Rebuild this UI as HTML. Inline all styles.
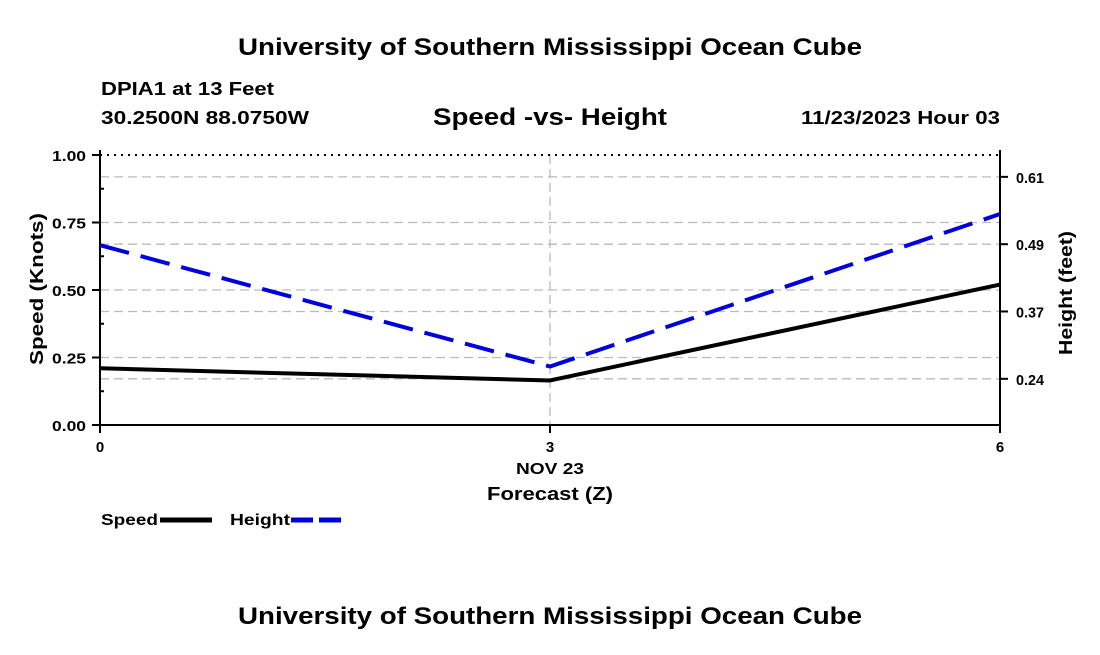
<!DOCTYPE html>
<html><head><meta charset="utf-8"><style>
body{margin:0;background:#fff;width:1100px;height:650px;overflow:hidden;font-family:"Liberation Sans",sans-serif}
</style></head><body>
<svg width="1100" height="650" xmlns="http://www.w3.org/2000/svg" font-family="Liberation Sans, sans-serif" font-weight="bold">
<text x="238" y="55" font-size="24" textLength="624" lengthAdjust="spacingAndGlyphs">University of Southern Mississippi Ocean Cube</text>
<text x="101" y="95" font-size="18" textLength="173" lengthAdjust="spacingAndGlyphs">DPIA1 at 13 Feet</text>
<text x="101" y="124" font-size="18" textLength="208" lengthAdjust="spacingAndGlyphs">30.2500N  88.0750W</text>
<text x="433" y="125" font-size="24" textLength="234" lengthAdjust="spacingAndGlyphs">Speed -vs- Height</text>
<text x="801" y="124" font-size="18" textLength="199" lengthAdjust="spacingAndGlyphs">11/23/2023 Hour 03</text>
<text x="238" y="624" font-size="24" textLength="624" lengthAdjust="spacingAndGlyphs">University of Southern Mississippi Ocean Cube</text>
<g id="plot"></g>
<text x="516" y="474" font-size="16" textLength="68" lengthAdjust="spacingAndGlyphs">NOV 23</text>
<text x="487" y="500" font-size="18" textLength="126" lengthAdjust="spacingAndGlyphs">Forecast (Z)</text>
<text transform="translate(43,365) rotate(-90)" font-size="18" textLength="152" lengthAdjust="spacingAndGlyphs">Speed (Knots)</text>
<text transform="translate(1072,355) rotate(-90)" font-size="18" textLength="124" lengthAdjust="spacingAndGlyphs">Height (feet)</text>
<g>
<text x="101" y="525" font-size="16" textLength="57" lengthAdjust="spacingAndGlyphs">Speed</text>
<line x1="160" y1="520" x2="212" y2="520" stroke="#000" stroke-width="5"/>
<text x="230" y="525" font-size="16" textLength="60" lengthAdjust="spacingAndGlyphs">Height</text>
<line x1="291" y1="520" x2="343" y2="520" stroke="#0000dd" stroke-width="5" stroke-dasharray="22,6"/>
</g>
</svg>
<script>
const hours = [0, 3, 6];
const speed = [0.21, 0.165, 0.52];
const height = [0.483, 0.261, 0.540];
const leftTicks = [0, 0.25, 0.5, 0.75, 1.0];
const rightTickLabels = ["0.24", "0.37", "0.49", "0.61"];
const rightTickValues = [0.2385, 0.3617, 0.4848, 0.608];
const X0=100,X1=1000,Y0=425,Y1=155;
const sx=h=>X0+(h-0)/6*(X1-X0);
const sy=v=>Y0-(v-0)/1*(Y0-Y1);
const hMin=0.154,hMax=0.648;
const sy2=v=>Y0-(v-hMin)/(hMax-hMin)*(Y0-Y1);
const NS="http://www.w3.org/2000/svg";
const g=document.getElementById('plot');
function mk(t,a){const e=document.createElementNS(NS,t);for(const k in a)e.setAttribute(k,a[k]);g.appendChild(e);return e;}
leftTicks.slice(1,4).forEach(v=>{const l=mk('line',{x1:X0,x2:X1,y1:sy(v),y2:sy(v),stroke:'#bbb','stroke-width':1.3,'stroke-dasharray':'9,5'});

});
rightTickValues.forEach(v=>{const l=mk('line',{x1:X0,x2:X1,y1:sy2(v),y2:sy2(v),stroke:'#bbb','stroke-width':1.3,'stroke-dasharray':'9,5'});

});
{const l=mk('line',{x1:sx(3),x2:sx(3),y1:Y1,y2:Y0,stroke:'#bbb','stroke-width':1.3,'stroke-dasharray':'9,5'});

}
{const l=mk('line',{x1:X0,x2:X1,y1:Y1,y2:Y1,stroke:'#000','stroke-width':2,'stroke-dasharray':'2,5'});

}
{const l=mk('path',{d:`M${X0},${Y1-5}V${Y0}H${X1}V${Y1-5}`,fill:'none',stroke:'#000','stroke-width':2});

}
for(let v=0;v<=1.0001;v+=0.125){const major=Math.abs(v*4-Math.round(v*4))<1e-6;
const l=mk('line',{x1:X0-(major?8:0),x2:X0+(major?0:4),y1:sy(v),y2:sy(v),stroke:'#000','stroke-width':2});

}
leftTicks.forEach(v=>{const t=mk('text',{x:X0-14,y:sy(v)+6,'text-anchor':'end','font-size':15,textLength:34,lengthAdjust:'spacingAndGlyphs'});t.textContent=v.toFixed(2);

});
rightTickValues.forEach((v,i)=>{const l=mk('line',{x1:X1,x2:X1+8,y1:sy2(v),y2:sy2(v),stroke:'#000','stroke-width':2});


const t=mk('text',{x:X1+16,y:sy2(v)+6,'font-size':15,textLength:28,lengthAdjust:'spacingAndGlyphs'});t.textContent=rightTickLabels[i];

});
hours.forEach(h=>{const l=mk('line',{x1:sx(h),x2:sx(h),y1:Y0,y2:Y0+8,stroke:'#000','stroke-width':2});


const t=mk('text',{x:sx(h),y:Y0+27,'text-anchor':'middle','font-size':15});t.textContent=h;

});
{const p=mk('polyline',{points:hours.map((h,i)=>sx(h)+','+sy(speed[i])).join(' '),fill:'none',stroke:'#000','stroke-width':4});

}
{const p=mk('polyline',{points:hours.map((h,i)=>sx(h)+','+sy2(height[i])).join(' '),fill:'none',stroke:'#0000dd','stroke-width':4,'stroke-dasharray':'30,12'});

}
</script>
</body></html>
